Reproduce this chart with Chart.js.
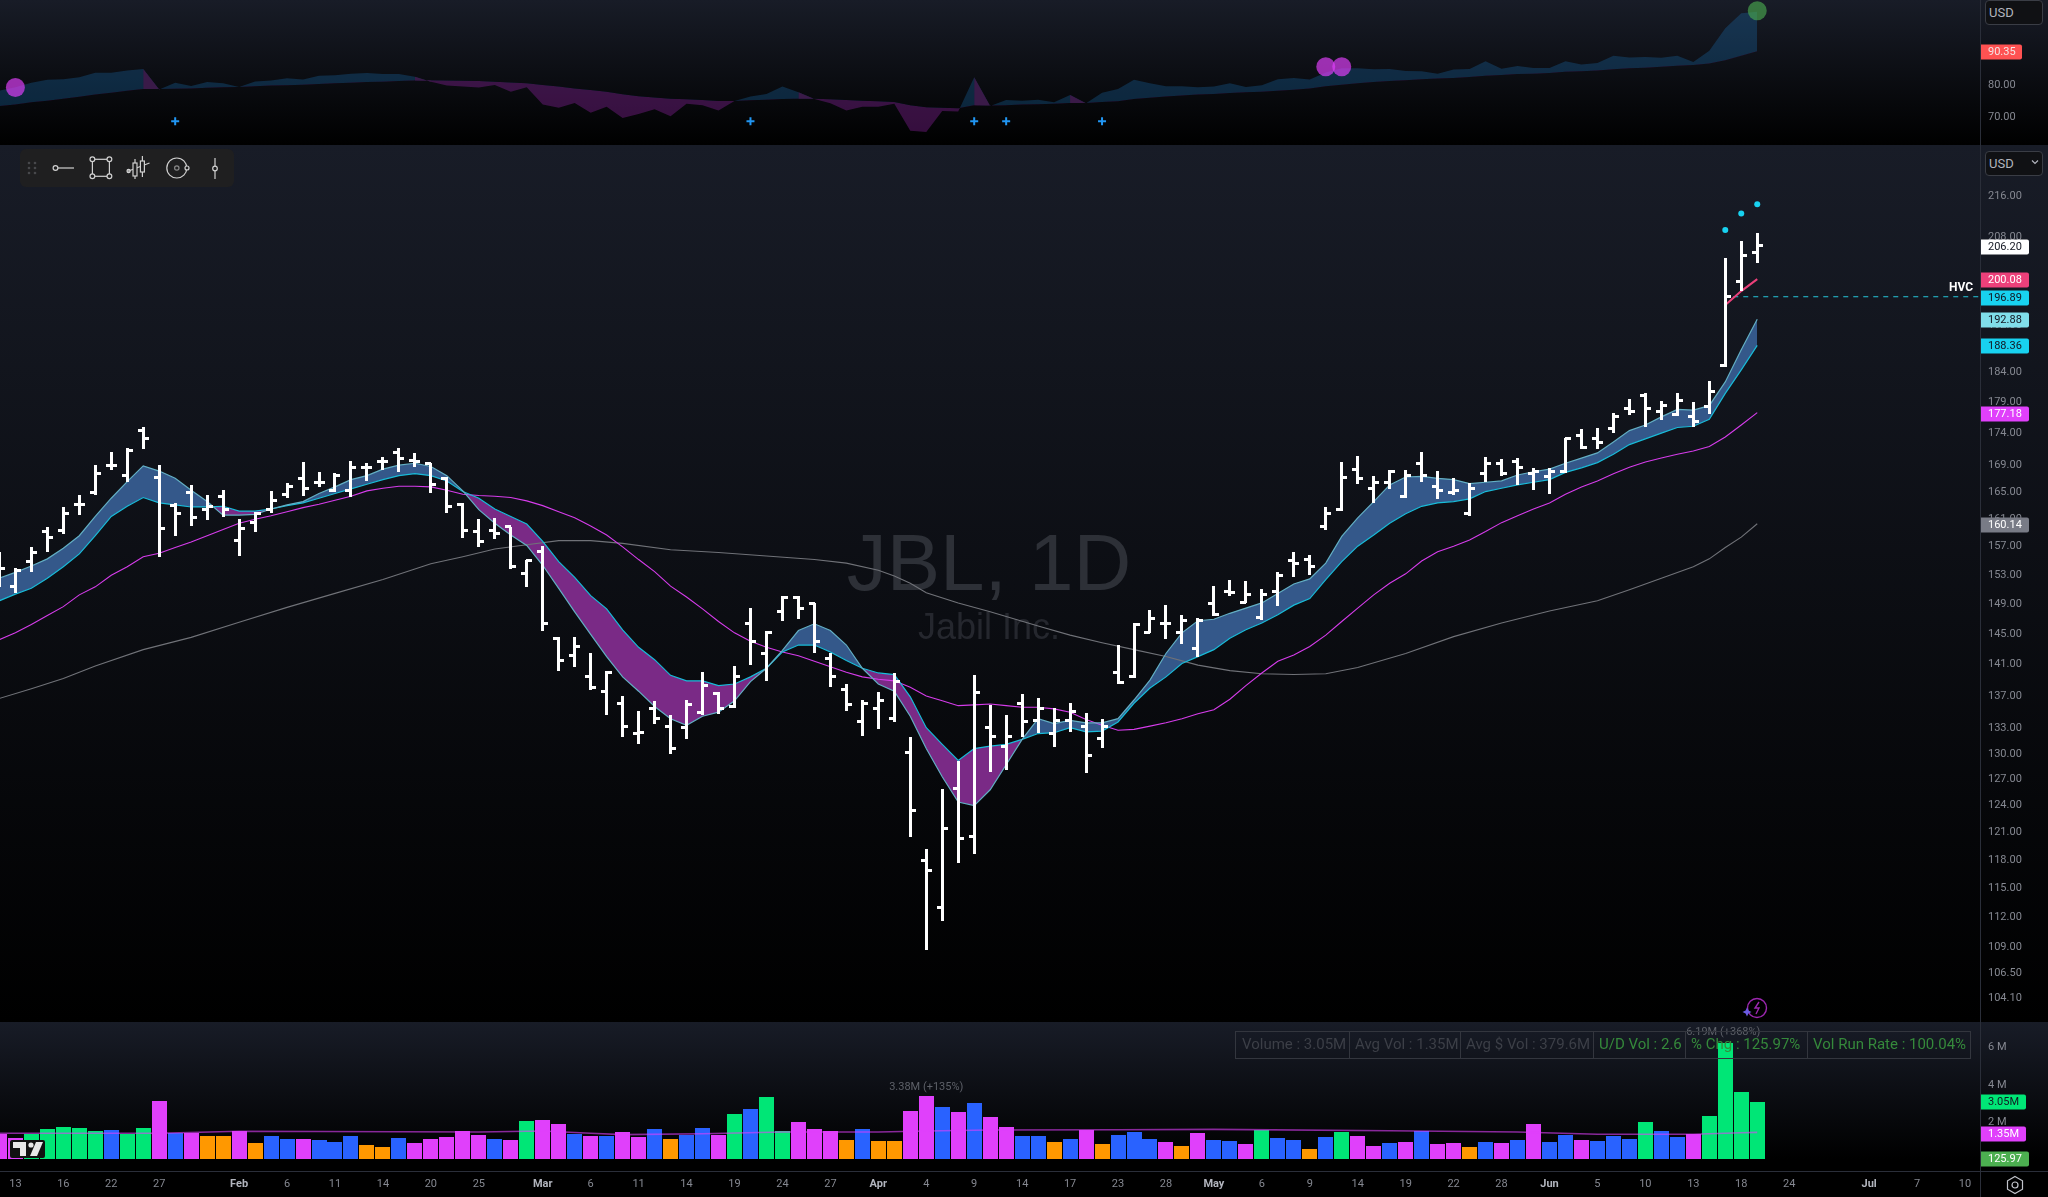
<!DOCTYPE html>
<html><head><meta charset="utf-8"><title>JBL, 1D</title>
<script src="https://cdn.jsdelivr.net/npm/chart.js@4"></script>
<style>
html,body{margin:0;padding:0;background:#000;width:2048px;height:1197px;overflow:hidden;font-family:Roboto,sans-serif}
.panel{position:absolute;left:0;width:2048px}
canvas{display:block;position:absolute;left:0;top:0}
.usd{position:absolute;left:1985px;width:56px;height:23px;border:1px solid #3a3d45;border-radius:4px;background:#101114;color:#b2b5be;font:13px Roboto;line-height:23px;text-indent:3px}
.vline{position:absolute;left:1980px;top:0;width:1px;height:1197px;background:#2a2e39}
.hline{position:absolute;left:0;top:1171px;width:2048px;height:1px;background:#2a2e39}
svg{position:absolute}
</style></head><body>
<div class="panel" style="top:0;height:145px;background:linear-gradient(#181c27,#000)"><canvas id="top" width="2048" height="145"></canvas></div>
<div class="panel" style="top:145px;height:877px;background:linear-gradient(#181c27,#000)"><canvas id="main" width="2048" height="877"></canvas></div>
<div class="panel" style="top:1022px;height:175px;background:linear-gradient(#181c27 0,#000 137px)"><canvas id="vol" width="2048" height="175"></canvas></div>
<div class="vline"></div><div class="hline"></div>
<div class="usd" style="top:0">USD</div>
<div class="usd" style="top:151px">USD</div>
<svg style="left:2031px;top:159px" width="8" height="6"><path d="M1 1.5l3 3 3-3" fill="none" stroke="#b2b5be" stroke-width="1.2"/></svg>
<svg style="left:20px;top:149px" width="214" height="38">
<rect width="214" height="38" rx="6" fill="#1f1f20"/>
<g fill="#47484b"><circle cx="9" cy="14" r="1.3"/><circle cx="15" cy="14" r="1.3"/><circle cx="9" cy="19" r="1.3"/><circle cx="15" cy="19" r="1.3"/><circle cx="9" cy="24" r="1.3"/><circle cx="15" cy="24" r="1.3"/></g>
<g fill="none" stroke="#d0d0d0" stroke-width="1.2">
<circle cx="35.5" cy="19" r="2.4"/><path d="M38 19H54"/>
<rect x="72.4" y="10.3" width="17" height="17"/>
<g fill="#1f1f20"><circle cx="72.4" cy="10.3" r="2.4"/><circle cx="89.4" cy="10.3" r="2.4"/><circle cx="72.4" cy="27.3" r="2.4"/><circle cx="89.4" cy="27.3" r="2.4"/></g>
<path d="M115 10V30M122.4 7V28M108.6 22L129.5 14"/><rect x="113" y="14" width="4" height="13" fill="#1f1f20"/><rect x="120.4" y="12" width="4" height="11" fill="#1f1f20"/><circle cx="108.6" cy="22" r="1.6" fill="#999"/>
<circle cx="156.8" cy="19" r="10"/><circle cx="156.8" cy="19" r="2.2" stroke="#888"/><circle cx="167" cy="19" r="2" fill="#1f1f20"/>
<path d="M195 9V30"/><circle cx="195" cy="19.5" r="2.3" fill="#1f1f20"/>
</g></svg>
<svg style="left:10px;top:1140px" width="35" height="18"><rect width="35" height="18" rx="2" fill="#111"/><path d="M3 2h13v14h-6V8H3z" fill="#e8e8e8"/><circle cx="21" cy="5" r="2.6" fill="#e8e8e8"/><path d="M26 2h7l-6 14h-7z" fill="#e8e8e8"/></svg>
<svg style="left:1740px;top:996px" width="32" height="26"><circle cx="17" cy="12" r="9.5" fill="none" stroke="#9c27b0" stroke-width="1.4"/><path d="M19 6l-4 6h4l-3 6" fill="none" stroke="#9c27b0" stroke-width="1.4"/><path d="M7 11.5l1.4 3.1 3.1 1.4-3.1 1.4-1.4 3.1-1.4-3.1-3.1-1.4 3.1-1.4z" fill="#6a5be2"/></svg>
<svg style="left:2004px;top:1174px" width="22" height="22"><path d="M11 2.5l7.5 4.3v8.4L11 19.5l-7.5-4.3V6.8z" fill="none" stroke="#c2c4cb" stroke-width="1.2"/><circle cx="11" cy="11" r="3" fill="none" stroke="#c2c4cb" stroke-width="1.2"/></svg>
<script>
/* ---------- data ---------- */
const opens=[152.9,151.3,154.7,159.0,159.1,162.9,164.8,168.8,167.4,174.4,
167.0,162.8,164.8,162.3,164.1,157.7,160.3,162.3,164.4,166.8,
166.3,165.1,165.1,168.6,169.4,170.9,169.7,169.1,166.8,162.9,
159.0,159.2,159.7,153.1,156.2,144.2,142.1,139.3,137.5,136.0,
132.3,135.3,133.2,133.0,134.8,137.2,135.6,146.3,142.3,147.9,
149.8,148.9,141.7,137.7,133.7,135.4,134.1,130.0,117.9,112.9,
125.8,120.5,133.0,130.8,136.0,133.9,132.3,133.9,133.2,131.7,
139.8,139.4,145.1,146.3,145.1,143.0,148.9,150.6,149.0,147.1,
150.5,154.8,155.0,159.7,162.3,168.2,165.3,166.2,164.2,169.2,
165.6,164.7,161.6,167.6,169.1,169.4,167.7,167.1,167.9,173.5,
173.0,174.7,177.9,179.9,177.4,176.9,176.6,178.1,185.0,199.7,204.9];
const highs=[156.1,153.8,156.8,159.7,162.6,164.4,168.9,171.0,171.6,174.9,
168.9,163.2,165.9,164.4,165.1,160.9,161.9,165.0,166.2,169.4,
167.9,167.7,169.6,169.2,170.2,171.6,170.8,169.2,167.1,163.2,
160.9,161.0,159.7,155.0,156.9,144.5,144.5,142.3,140.1,136.9,
135.1,136.3,134.5,136.4,139.9,137.4,140.7,148.3,145.3,150.0,
150.0,149.0,142.4,138.4,136.4,137.4,139.8,131.9,119.1,125.8,
129.0,139.6,135.8,134.6,137.2,136.7,135.4,136.0,134.8,134.1,
143.4,146.3,148.1,148.7,147.4,147.0,151.3,152.2,152.0,150.9,
153.3,156.1,155.7,162.6,169.4,170.3,167.3,168.2,168.2,171.0,
168.0,167.0,166.2,170.2,169.9,170.0,168.5,168.5,173.1,174.6,
174.7,177.1,179.4,180.3,179.1,180.3,178.9,182.3,204.0,207.1,208.7];
const lows=[151.2,150.4,153.3,156.1,158.7,161.4,164.4,168.2,166.3,171.4,
155.4,158.4,159.8,160.7,161.1,155.5,159.0,161.7,163.9,164.2,
165.6,164.8,164.1,166.5,168.2,167.9,168.6,164.7,161.7,158.1,
156.8,157.9,153.7,151.2,145.3,140.1,140.5,137.7,134.6,131.9,
131.1,133.4,129.9,131.7,134.6,134.7,135.4,140.8,138.8,146.6,
146.9,142.4,138.0,135.1,132.0,132.9,133.7,120.4,108.6,111.5,
117.6,118.6,127.8,128.0,131.9,132.4,130.7,132.5,127.6,130.6,
138.4,139.2,145.0,144.2,143.5,141.9,147.3,150.0,149.0,146.7,
148.6,152.6,152.9,159.2,162.0,166.0,163.2,165.3,163.9,166.3,
163.8,164.4,161.3,166.3,167.3,165.9,165.1,164.5,167.7,171.4,
171.4,173.9,176.8,174.9,176.0,176.6,174.9,176.9,184.7,197.9,203.0];
const closes=[153.8,153.4,156.0,158.1,161.7,162.9,167.6,168.8,171.1,173.1,
159.5,161.7,161.0,162.6,162.3,159.4,161.7,163.5,165.7,165.3,
166.3,167.3,168.6,168.6,169.4,169.9,169.4,166.0,162.6,159.1,
157.5,158.7,154.0,154.8,146.3,141.4,143.2,138.0,139.9,133.2,
132.4,134.1,130.5,135.9,138.2,135.4,139.3,143.8,145.1,149.8,
148.2,143.8,139.3,135.8,136.0,136.4,138.7,123.3,116.8,121.3,
120.3,137.3,132.0,131.9,133.7,135.4,133.9,135.0,129.7,133.2,
138.6,146.1,146.9,146.3,146.6,146.7,147.5,150.4,150.2,150.2,
152.7,154.4,154.0,161.7,167.0,166.8,166.3,167.9,167.4,167.4,
165.1,165.0,165.3,169.1,167.7,168.5,167.9,168.0,173.0,171.7,
172.4,176.6,177.3,177.9,178.3,179.1,175.7,180.7,196.89,204.5,206.2];
const emaFast=[152.4,153.2,154.1,155.1,156.6,158.4,161.2,163.9,166.4,168.8,
168.0,166.9,165.1,163.4,161.4,161.4,161.5,162.3,162.9,163.4,
164.6,165.6,166.7,167.3,168.3,168.9,169.2,168.7,167.3,165.0,
162.2,160.2,158.5,157.0,154.2,151.0,147.8,144.8,141.9,139.3,
137.5,135.6,134.1,133.3,134.4,134.9,136.3,138.7,140.4,142.7,
145.3,146.2,145.3,143.4,140.4,138.4,137.5,134.4,130.5,127.2,
124.3,123.9,125.7,128.6,131.6,134.1,133.5,133.9,133.6,133.6,
134.1,136.4,138.9,142.3,145.0,146.6,146.8,147.6,148.3,149.0,
150.3,151.6,152.3,154.5,158.3,161.0,163.4,165.9,167.1,167.2,
166.9,166.7,166.1,166.3,166.5,167.4,167.9,168.3,169.2,170.0,
170.8,172.5,174.3,175.2,176.5,177.7,177.6,178.3,182.2,187.6,192.88];
const emaSlow=[149.3,150.2,151.0,152.4,154.0,155.8,158.4,161.2,162.7,164.0,
163.2,162.9,162.6,162.6,162.7,162.0,162.0,162.3,162.8,163.2,
163.9,164.6,165.3,166.0,166.7,167.3,167.6,167.3,166.5,164.9,
163.9,162.3,161.2,160.1,157.6,154.7,152.5,150.0,148.2,145.4,
143.1,141.5,139.5,138.8,138.8,138.2,138.4,139.3,140.4,142.5,
143.4,143.4,142.5,141.4,140.4,139.8,139.6,136.8,133.0,131.0,
129.1,130.5,130.8,131.0,131.6,132.3,132.4,133.0,132.5,132.6,
133.7,136.0,137.9,139.3,141.0,141.9,142.8,144.3,145.4,146.3,
147.4,148.7,149.6,152.2,154.7,156.9,158.5,160.2,161.6,162.7,
163.2,163.4,163.8,164.9,165.4,165.9,166.3,166.7,167.8,168.5,
169.3,170.6,172.1,173.0,173.9,174.8,175.0,176.1,180.3,184.2,188.36];
const ma50=[144.1,145.0,146.1,147.3,148.5,150.1,151.2,152.8,154.0,155.4,
155.9,156.7,157.5,158.4,159.3,160.2,160.8,161.3,161.9,162.5,
163.0,163.6,164.2,165.0,165.4,165.7,165.7,165.6,165.1,164.5,
164.3,164.2,164.0,163.5,162.8,161.9,161.0,159.8,158.5,156.8,
155.0,153.3,151.3,149.8,148.2,146.5,145.0,143.9,143.1,142.5,
142.0,141.3,140.6,139.9,139.3,139.0,138.8,138.0,136.9,136.3,
135.7,135.8,135.9,135.7,135.5,135.5,135.3,134.9,134.0,133.3,
132.7,132.8,133.2,133.6,134.1,134.7,135.2,136.5,138.2,139.8,
141.3,142.1,143.2,144.7,146.5,148.3,150.1,151.7,153.0,154.8,
156.1,156.9,157.8,159.0,160.3,161.3,162.3,163.2,164.5,165.6,
166.5,167.6,168.6,169.4,170.0,170.6,171.1,171.8,173.3,175.2,177.18];
const ma200Idx=[0,2,4,5,6,9,12,15,18,21,24,27,29,31,33,35,37,39,42,45,48,51,53,55,56,57,58,60,62,65,67,69,71,73,75,77,79,81,83,85,88,91,94,97,100,102,104,106,107,108,109,110];
const ma200=[136.6,137.8,139.1,139.9,140.7,142.8,144.4,146.4,148.4,150.3,152.2,154.4,155.4,156.5,157.1,157.7,157.7,157.3,156.4,156.0,155.5,155.0,154.5,153.5,152.7,151.7,150.4,149.0,147.8,145.9,144.7,143.7,142.8,141.9,140.8,140.1,139.7,139.6,139.7,140.5,142.3,144.5,146.3,147.9,149.3,150.8,152.4,154.0,155.1,156.7,158.2,160.14];
const stopIdx=[108,109,110];
const stopLine=[195.4,197.9,200.08];
const dotIdx=[108,109,110];
const dotVals=[209.2,212.4,214.2];
const hvcIdx=[108.5,123.94];
const hvcVals=[196.89,196.89];
const priceTicks=[216,208,200,196,192,188,184,179,174,169,165,161,157,153,149,145,141,137,133,130,127,124,121,118,115,112,109,106.5,104.1];

const rsValue=[78.0,79.1,80.5,81.4,81.6,82.2,83.6,83.6,84.3,84.8,
78.4,80.5,79.5,80.7,80.3,79.2,80.9,81.2,81.9,81.5,
82.7,82.8,83.3,83.5,83.2,83.2,82.4,80.8,79.6,79.3,
79.0,79.8,77.7,79.1,73.7,72.7,74.2,71.1,73.0,69.5,
70.7,72.2,70.0,73.9,73.5,71.8,74.8,76.2,77.0,79.3,
77.5,75.4,74.1,71.8,73.0,73.0,73.9,65.5,65.1,71.7,
71.5,82.2,73.2,75.1,74.9,75.2,74.4,76.7,74.1,77.4,
78.5,81.4,80.3,79.4,79.4,79.1,79.3,80.3,79.2,79.7,
81.6,82.0,81.5,83.7,85.0,85.0,84.7,84.8,84.2,84.1,
83.3,84.6,84.8,87.2,84.9,85.7,85.1,85.1,87.2,86.2,
86.7,88.9,88.4,88.5,88.3,88.9,87.0,90.5,97.5,102.2,102.7];
const rsAvg=[73.2,73.7,74.4,74.9,75.5,76.1,76.8,77.4,78.0,78.5,
78.5,78.6,78.7,78.9,79.1,79.2,79.4,79.6,79.7,79.9,
80.1,80.3,80.5,80.7,80.8,81.0,81.2,81.3,81.2,81.1,
81.0,80.8,80.6,80.3,79.8,79.3,78.7,78.2,77.7,76.9,
76.3,75.9,75.5,75.3,75.1,74.8,74.8,75.0,75.2,75.4,
75.5,75.5,75.3,75.1,74.9,74.7,74.5,73.5,72.8,72.7,
72.5,73.5,73.4,73.5,73.7,73.8,73.9,74.2,74.2,74.5,
74.7,75.4,75.8,76.2,76.5,76.8,77.0,77.3,77.5,77.7,
78.0,78.3,78.7,79.4,79.9,80.3,80.7,81.0,81.3,81.6,
81.8,82.0,82.3,82.7,82.9,83.2,83.3,83.5,83.9,84.1,
84.3,84.7,85.0,85.2,85.5,85.8,86.0,86.5,87.5,88.9,90.35];
const rsTurnIdx=[9,26,50,61,67];
const rsHighIdx=[1,83,84];
const rsHighVals=[79.0,85.5,85.5];
const rsNewHighIdx=[110];
const rsNewHighVals=[103.0];
const rsCrossIdx=[11,47,61,63,69];
const rsCrossVals=[68.5,68.5,68.5,68.5,68.5];
const rsTicks=[80,70];

const volumes=[1.33,1.1,1.33,1.6,1.71,1.65,1.49,1.55,1.33,1.65,
3.09,1.39,1.39,1.23,1.23,1.49,.85,1.23,1.07,1.07,
1.01,.91,1.23,.75,.64,1.12,.85,1.07,1.17,1.49,
1.28,1.07,1.01,2.03,2.08,1.87,1.33,1.23,1.23,1.44,
1.17,1.6,1.07,1.28,1.65,1.28,2.4,2.67,3.31,1.49,
1.97,1.6,1.49,1.01,1.6,.96,.96,2.56,3.38,2.77,
2.51,2.99,2.24,1.71,1.23,1.23,.91,1.07,1.55,.8,
1.28,1.44,1.07,.91,.69,1.39,1.01,.96,.8,1.55,
1.12,1.01,.53,1.17,1.44,1.23,.69,.85,.91,1.49,
.8,.85,.64,.91,.85,1.01,1.87,.91,1.28,1.01,
.96,1.23,1.07,1.97,1.49,1.17,1.33,2.29,6.19,3.57,3.05];
const volKind=("m m g g g g g b g g m b m o o m o b b m b b b o o b m m m m m b m g m m b m b m "+
"m b o b b m g b g g m m m o b o o m m b m b m m b b o b m o b b b m o m b b m g "+
"b b o b g m m b m b m m o b m b m b b m b b b g b b m g g g g").split(" ");
const volAvgIdx=[0,10,15,30,34,37,39,44,49,55,58,62,70,76,87,95,100,106,108,109,110];
const volAvg=[1.37,1.37,1.48,1.44,1.49,1.37,1.30,1.35,1.44,1.44,1.49,1.55,1.56,1.58,1.51,1.44,1.32,1.32,1.37,1.40,1.42];
const volTicks=[6,4,2];

const dateTickIdx=[1,4,7,10,15,18,21,24,27,30,34,37,40,43,46,49,52,55,58,61,64,67,70,73,76,79,82,85,88,91,94,97,100,103,106,109,112,117,120,123];
const dateTickLabels=["13","16","22","27","Feb","6","11","14","20","25","Mar","6","11","14","19","24","27","Apr","4","9","14","17","23","28","May","6","9","14","19","22","28","Jun","5","10","13","18","24","Jul","7","10"];
const statCells=["Volume : 3.05M","Avg Vol : 1.35M","Avg $ Vol : 379.6M","U/D Vol : 2.6","% Chg : 125.97%","Vol Run Rate : 100.04%"];

/* ---------- palette & helpers ---------- */
const palette={g:"#00e676",b:"#2962ff",m:"#e040fb",o:"#ff9800"};
const XMIN=0.0375,XMAX=123.94;
const xy=(xs,ys)=>xs.map((x,i)=>({x,y:ys[i]}));
const seq=ys=>ys.map((y,x)=>({x,y}));
const tickMark=(side)=>{const c=document.createElement("canvas");c.width=11;c.height=3;const g=c.getContext("2d");g.fillStyle="#fff";g.fillRect(side<0?0:5,0,6,3);return c;};
const crisp={id:"crisp",afterDatasetsUpdate(chart){chart.data.datasets.forEach((ds,i)=>{if(!ds.crisp)return;chart.getDatasetMeta(i).data.forEach(el=>{el.x=Math.floor(el.x)+.5;if(ds.type==="bar"){el.y=Math.round(el.y);el.base=Math.round(el.base);}else el.y=Math.floor(el.y)+.5;});});}};
function tag(ctx,text,y,bg,fg,w){y=Math.round(y);const x=1981,h=15;ctx.save();ctx.fillStyle=bg;ctx.beginPath();ctx.roundRect(x,y-7.5,w||48,h,[0,2,2,0]);ctx.fill();ctx.fillStyle=fg;ctx.font="11px Roboto";ctx.textAlign="left";ctx.textBaseline="middle";ctx.fillText(text,x+7,y+.5);ctx.restore();}
const hiddenX={type:"linear",display:false,min:XMIN,max:XMAX,offset:false,grid:{display:false}};
const yAxis=(extra)=>Object.assign({position:"right",grid:{display:false,drawTicks:false,tickLength:0},border:{display:false},afterFit(a){a.width=68;a.paddingTop=0;a.paddingBottom=0;}},extra);
const tickFont={color:"#858891",font:{family:"Roboto",size:11},padding:8,autoSkip:false,maxRotation:0,labelOffset:1};
const baseOpts={responsive:false,animation:false,events:[],layout:{autoPadding:false,padding:0},plugins:{legend:{display:false},tooltip:{enabled:false},filler:{drawTime:"beforeDatasetsDraw"}}};

/* ---------- top panel: relative strength ---------- */
const topSets=[
  {type:"scatter",data:xy(rsNewHighIdx,rsNewHighVals),pointRadius:9.5,pointBackgroundColor:"rgba(76,175,80,.62)",pointBorderWidth:0},
  {type:"scatter",data:xy(rsHighIdx,rsHighVals),pointRadius:9.5,pointBackgroundColor:"rgba(224,64,251,.68)",pointBorderWidth:0},
  {type:"scatter",data:xy(rsCrossIdx,rsCrossVals),pointStyle:"cross",pointRadius:4,pointBorderColor:"#2196f3",pointBorderWidth:2}
];
rsTurnIdx.forEach(i=>{
  const n=topSets.length;
  topSets.push({type:"line",data:[{x:i,y:rsValue[i]},{x:i+1,y:rsValue[i+1]}],borderWidth:0,pointRadius:0,fill:{target:n+1,above:"#3a1a48",below:"#3a1a48"}});
  topSets.push({type:"line",data:[{x:i,y:rsAvg[i]},{x:i+1,y:rsAvg[i+1]}],borderWidth:0,pointRadius:0,fill:false});
});
topSets.push({type:"line",data:seq(rsValue),borderWidth:0,pointRadius:0,fill:{target:topSets.length+1,above:"rgba(33,150,243,.22)",below:"rgba(156,39,176,.34)"}});
topSets.push({type:"line",data:seq(rsAvg),borderWidth:0,pointRadius:0,fill:false});
new Chart(document.getElementById("top"),{type:"line",
 data:{datasets:topSets},
 options:Object.assign({},baseOpts,{scales:{x:hiddenX,
  y:yAxis({type:"linear",min:61.04,max:106.35,ticks:Object.assign({},tickFont,{callback:v=>v.toFixed(2)}),afterBuildTicks(a){a.ticks=rsTicks.map(value=>({value}));}})}}),
 plugins:[{id:"topTags",afterDraw(c){tag(c.ctx,"90.35",c.scales.y.getPixelForValue(90.35)+1,"#ff5252","#f4e6e6",41);}}]
});

/* ---------- main panel: OHLC bars and moving averages ---------- */
new Chart(document.getElementById("main"),{type:"bar",
 data:{datasets:[
  {type:"scatter",crisp:true,data:seq(opens),pointStyle:tickMark(-1),pointRadius:3},
  {type:"scatter",crisp:true,data:seq(closes),pointStyle:tickMark(1),pointRadius:3},
  {type:"bar",crisp:true,data:lows.map((l,i)=>({x:i,y:[l,highs[i]]})),backgroundColor:"#fff",borderWidth:0,barThickness:3,inflateAmount:0},
  {type:"scatter",data:xy(dotIdx,dotVals),pointRadius:3,pointBackgroundColor:"#18d2f0",pointBorderWidth:0},
  {type:"line",data:xy(stopIdx,stopLine),borderColor:"#ec407a",borderWidth:2,pointRadius:0},
  {type:"line",data:xy(hvcIdx,hvcVals),borderColor:"#26c6da",borderWidth:1,borderDash:[5,5],pointRadius:0},
  {type:"line",data:seq(emaFast),borderColor:"#63afc4",borderWidth:1.2,pointRadius:0,tension:0,fill:{target:7,above:"#34588a",below:"#7a2a86"}},
  {type:"line",data:seq(emaSlow),borderColor:"#18bcd8",borderWidth:1.2,pointRadius:0,tension:0,fill:false},
  {type:"line",data:seq(ma50),borderColor:"#d63ceb",borderWidth:1.1,pointRadius:0,tension:0},
  {type:"line",data:xy(ma200Idx,ma200),borderColor:"#707278",borderWidth:1.1,pointRadius:0,tension:0}
 ]},
 options:Object.assign({},baseOpts,{scales:{x:hiddenX,
  y:yAxis({type:"logarithmic",min:101.75,max:226.05,ticks:Object.assign({},tickFont,{callback:v=>v.toFixed(2)}),afterBuildTicks(a){a.ticks=priceTicks.map(value=>({value}));}})}}),
 plugins:[crisp,{id:"watermark",beforeDraw(c){const g=c.ctx;g.save();g.textAlign="center";g.textBaseline="middle";g.fillStyle="#2d3037";g.font="80px 'Liberation Sans'";g.fillText("JBL, 1D",989,423);g.fillStyle="#25272e";g.font="36px 'Liberation Sans'";g.fillText("Jabil Inc.",989,484);g.restore();},
  afterDraw(c){const g=c.ctx,y=c.scales.y,p=v=>y.getPixelForValue(v)+1;
   tag(g,"206.20",p(206.2),"#ffffff","#131722");
   tag(g,"200.08",p(200.08),"#ec407a","#ffffff");
   tag(g,"196.89",p(196.89),"#18d2f0","#131722");
   tag(g,"192.88",p(192.88),"#80deea","#131722");
   tag(g,"188.36",p(188.36),"#18d2f0","#131722");
   tag(g,"177.18",p(177.18),"#e040fb","#ffffff");
   tag(g,"160.14",p(160.14),"#787b86","#ffffff");
   g.save();g.fillStyle="#fff";g.font="bold 12px Roboto";g.textAlign="right";g.textBaseline="middle";g.fillText("HVC",1973,p(196.89)-10);g.restore();}}]
});

/* ---------- volume panel and date axis ---------- */
new Chart(document.getElementById("vol"),{type:"bar",
 data:{datasets:[
  {type:"line",data:xy(volAvgIdx,volAvg),borderColor:"rgba(224,64,251,.6)",borderWidth:1.6,pointRadius:0,tension:0},
  {type:"bar",crisp:true,data:seq(volumes),backgroundColor:volKind.map(k=>palette[k]),borderWidth:0,barThickness:15,inflateAmount:0}
 ]},
 options:Object.assign({},baseOpts,{scales:{
  x:{type:"linear",min:XMIN,max:XMAX,offset:false,position:"bottom",grid:{display:false,drawTicks:false,tickLength:0},border:{display:false},afterFit(a){a.height=26;a.paddingLeft=0;a.paddingRight=0;},
     afterBuildTicks(a){a.ticks=dateTickIdx.map(value=>({value}));},
     ticks:{autoSkip:false,maxRotation:0,minRotation:0,padding:7,callback:(v,i)=>dateTickLabels[i],
       color:c=>/^[A-Z]/.test(dateTickLabels[c.index])?"#b2b5be":"#858891",
       font:c=>({family:"Roboto",size:11,weight:/^[A-Z]/.test(dateTickLabels[c.index])?"bold":"normal"})}},
  y:yAxis({type:"linear",min:-.64,max:7.307,ticks:Object.assign({},tickFont,{callback:v=>v+" M"}),afterBuildTicks(a){a.ticks=volTicks.map(value=>({value}));}})}}),
 plugins:[crisp,{id:"volLabels",afterDraw(c){const g=c.ctx,y=c.scales.y,x=c.scales.x;
   g.save();g.textBaseline="middle";g.textAlign="center";g.font="11px Roboto";g.fillStyle="#5d6068";
   g.fillText("3.38M (+135%)",x.getPixelForValue(58),y.getPixelForValue(3.38)-8);
   g.fillText("6.19M (+368%)",x.getPixelForValue(108)-2,10);
   const cols=[1236,1349,1460,1593,1685,1807,1971];
   g.strokeStyle="#33363e";g.lineWidth=1;g.strokeRect(1235.5,9.5,735,27);
   for(let i=1;i<6;i++){g.beginPath();g.moveTo(cols[i]+.5,10);g.lineTo(cols[i]+.5,36);g.stroke();}
   g.font="15px Roboto";g.textAlign="left";
   statCells.forEach((t,i)=>{g.fillStyle=i<3?"#3c3f47":"#35893b";g.fillText(t,cols[i]+6,23.5);});
   g.restore();
   tag(g,"3.05M",y.getPixelForValue(3.05),"#00e676","#131722",45);
   tag(g,"1.35M",y.getPixelForValue(1.35),"#e040fb","#ffffff",45);
   tag(g,"125.97",y.getPixelForValue(0),"#4caf50","#ffffff",48);
 }}]
});
</script>
</body></html>
